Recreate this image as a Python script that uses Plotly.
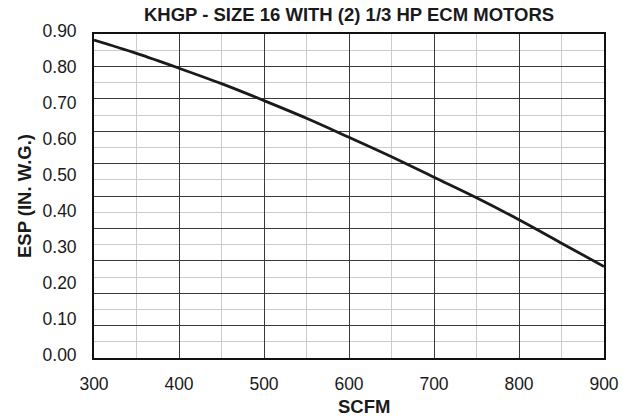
import plotly.graph_objects as go

# Data
scfm = [300, 350, 400, 450, 500, 550, 600, 650, 700, 750, 800, 850, 900]
esp = [0.883, 0.846, 0.805, 0.762, 0.715, 0.666, 0.613, 0.559, 0.502, 0.445, 0.384, 0.319, 0.254]

y_tick_vals = [0.0, 0.1, 0.2, 0.3, 0.4, 0.5, 0.6, 0.7, 0.8, 0.9]
y_tick_text = ["0.00", "0.10", "0.20", "0.30", "0.40", "0.50", "0.60", "0.70", "0.80", "0.90"]
x_tick_vals = [300, 400, 500, 600, 700, 800, 900]

title_text = "KHGP - SIZE 16 WITH (2) 1/3 HP ECM MOTORS"
x_title = "SCFM"
y_title = "ESP (IN. W.G.)"

font_family = "Liberation Sans, Arial, sans-serif"
ink = "#1a1a1a"

fig = go.Figure()
fig.add_trace(go.Scatter(
    x=scfm, y=esp, mode="lines", line=dict(color=ink, width=2.8, shape="spline"),
    showlegend=False, hoverinfo="skip"
))
# invisible trace to bind the grid axis
fig.add_trace(go.Scatter(x=[300], y=[0], yaxis="y2", mode="markers",
                         marker=dict(opacity=0), showlegend=False, hoverinfo="skip"))

fig.update_layout(
    width=623, height=420,
    margin=dict(l=94, r=19, t=34, b=62, autoexpand=False),
    paper_bgcolor="white", plot_bgcolor="white",
    font=dict(family=font_family, size=17.5, color=ink),
    title=dict(text="<b>" + title_text + "</b>",
               x=0.5, xref="paper", xanchor="center", y=1 - 15 / 420, yref="container",
               yanchor="middle",
               font=dict(size=18.5, family=font_family, color=ink)),
    xaxis=dict(
        range=[300, 900], tickvals=x_tick_vals, showgrid=True, gridcolor="#3a3a3a", gridwidth=1.3,
        minor=dict(dtick=50, showgrid=True, gridcolor="#cccccc", gridwidth=1.3),
        zeroline=False, showline=True, linecolor="#111111", linewidth=1.8, mirror=True,
        ticks="outside", ticklen=9, tickcolor="rgba(0,0,0,0)", automargin=False,
        tickfont=dict(size=17.5),
    ),
    yaxis=dict(
        range=[0, 0.9], tickvals=y_tick_vals, ticktext=y_tick_text, showgrid=False,
        zeroline=False, showline=True, linecolor="#111111", linewidth=1.8, mirror=True,
        ticks="outside", ticklen=12, tickcolor="rgba(0,0,0,0)", automargin=False,
        ticklabelshift=-3,
        tickfont=dict(size=17.5),
    ),
    yaxis2=dict(
        range=[0, 1.0], dtick=0.1, overlaying="y", side="right", showticklabels=False,
        showgrid=True, gridcolor="#3a3a3a", gridwidth=1.3,
        minor=dict(dtick=0.05, showgrid=True, gridcolor="#cccccc", gridwidth=1.3),
        zeroline=False, showline=False, ticks="", automargin=False,
    ),
    annotations=[
        dict(text="<b>" + x_title + "</b>", xref="paper", yref="paper", x=(364 - 94) / 510, y=0,
             xanchor="center", yanchor="middle", yshift=-48, showarrow=False,
             font=dict(size=18.5, family=font_family, color=ink)),
        dict(text="<b>" + y_title + "</b>", xref="paper", yref="paper", x=0, y=0.5,
             xanchor="center", yanchor="middle", xshift=-70, textangle=-90, showarrow=False,
             font=dict(size=18.5, family=font_family, color=ink)),
    ],
)

fig.write_html("out.html", config={"displayModeBar": False},
               post_script="document.body.style.margin='0';")
